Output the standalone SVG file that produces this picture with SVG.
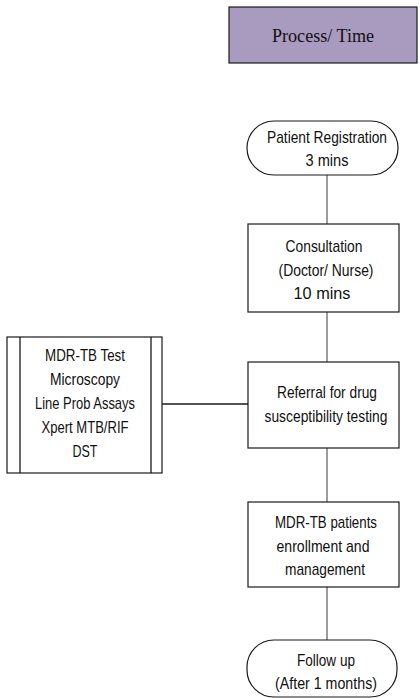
<svg xmlns="http://www.w3.org/2000/svg" width="420" height="698" viewBox="0 0 420 698">
<style>
.bx{fill:#fff;stroke:#1a1a1a;stroke-width:1.2}
.hd{fill:#a99bc0;stroke:#1a1a1a;stroke-width:1.2}
.t{font-family:"Liberation Sans",Arial,sans-serif;font-size:17px;fill:#111;text-anchor:middle}
.s{font-family:"Liberation Serif","Times New Roman",serif;font-size:19px;fill:#111;text-anchor:middle}
.c{stroke:#666;stroke-width:1.3;fill:none}
.ch{stroke:#1a1a1a;stroke-width:1.3;fill:none}
</style>
<g id="header">
<rect class="hd" x="229" y="7" width="188" height="56"/>
<text class="s" x="323" y="42" textLength="102" lengthAdjust="spacingAndGlyphs">Process/ Time</text>
</g>
<g id="connectors">
<line class="c" x1="327" y1="175" x2="327" y2="224"/>
<line class="c" x1="327" y1="312" x2="327" y2="362"/>
<line class="c" x1="327" y1="448" x2="327" y2="502"/>
<line class="c" x1="327" y1="587" x2="327" y2="640"/>
<line class="ch" x1="162" y1="404" x2="248" y2="404"/>
</g>
<g id="registration">
<rect class="bx" x="247" y="121" width="151" height="54" rx="27" ry="27"/>
<text class="t" x="327" y="143" textLength="120" lengthAdjust="spacingAndGlyphs">Patient Registration</text>
<text class="t" x="327" y="166" textLength="43" lengthAdjust="spacingAndGlyphs">3 mins</text>
</g>
<g id="consultation">
<rect class="bx" x="248" y="224" width="151" height="88"/>
<text class="t" x="324" y="252" textLength="77" lengthAdjust="spacingAndGlyphs">Consultation</text>
<text class="t" x="326" y="276" textLength="95" lengthAdjust="spacingAndGlyphs">(Doctor/ Nurse)</text>
<text class="t" x="322" y="299" textLength="57" lengthAdjust="spacingAndGlyphs">10 mins</text>
</g>
<g id="tests">
<rect class="bx" x="7" y="337" width="155" height="136"/>
<line class="ch" x1="20" y1="337" x2="20" y2="473"/>
<line class="ch" x1="151" y1="337" x2="151" y2="473"/>
<text class="t" x="85" y="361" textLength="80" lengthAdjust="spacingAndGlyphs">MDR-TB Test</text>
<text class="t" x="85" y="385" textLength="70" lengthAdjust="spacingAndGlyphs">Microscopy</text>
<text class="t" x="85" y="409" textLength="100" lengthAdjust="spacingAndGlyphs">Line Prob Assays</text>
<text class="t" x="85" y="433" textLength="87" lengthAdjust="spacingAndGlyphs">Xpert MTB/RIF</text>
<text class="t" x="85" y="457" textLength="25" lengthAdjust="spacingAndGlyphs">DST</text>
</g>
<g id="referral">
<rect class="bx" x="248" y="362" width="151" height="86"/>
<text class="t" x="327" y="398" textLength="100" lengthAdjust="spacingAndGlyphs">Referral for drug</text>
<text class="t" x="326" y="422" textLength="123" lengthAdjust="spacingAndGlyphs">susceptibility testing</text>
</g>
<g id="enrollment">
<rect class="bx" x="248" y="502" width="151" height="85"/>
<text class="t" x="326" y="528" textLength="102" lengthAdjust="spacingAndGlyphs">MDR-TB patients</text>
<text class="t" x="323" y="552" textLength="93" lengthAdjust="spacingAndGlyphs">enrollment and</text>
<text class="t" x="325" y="575" textLength="80" lengthAdjust="spacingAndGlyphs">management</text>
</g>
<g id="followup">
<rect class="bx" x="247" y="640" width="150" height="57" rx="27" ry="27"/>
<text class="t" x="326" y="666" textLength="58" lengthAdjust="spacingAndGlyphs">Follow up</text>
<text class="t" x="326" y="689" textLength="102" lengthAdjust="spacingAndGlyphs">(After 1 months)</text>
</g>
</svg>
